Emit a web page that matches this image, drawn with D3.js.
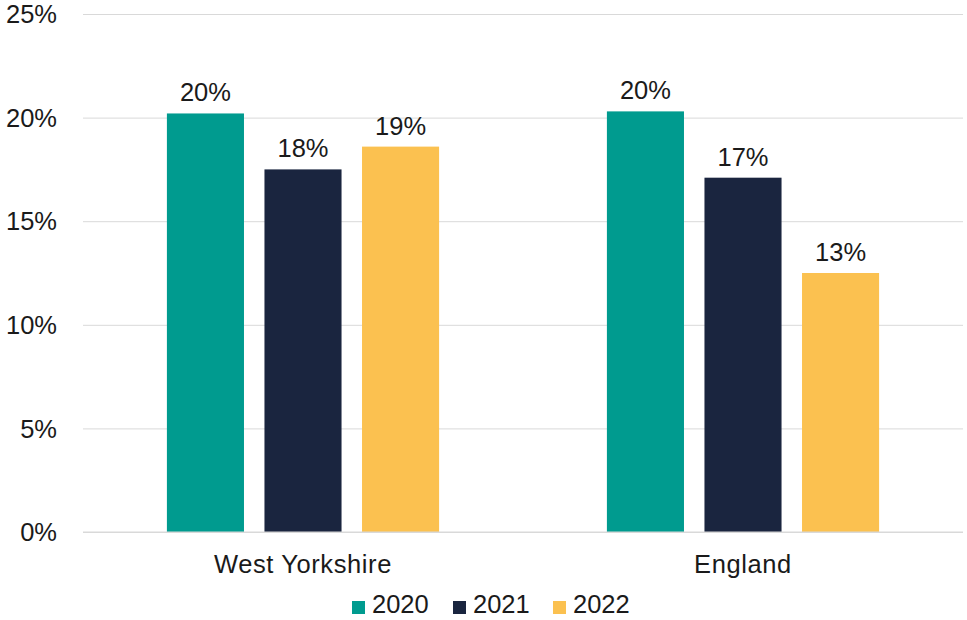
<!DOCTYPE html>
<html>
  <head>
    <meta charset="utf-8">
    <title></title>
  </head>
  <style>
    body{
      margin: 0;
      background-color: #fff;
      font-family: "Liberation Sans", Arial, sans-serif;
    }
    .grid .tick line{
      stroke: #d9d9d9
    }
    .grid .domain{
      display: none
    }
  </style>
  <script src="https://d3js.org/d3.v7.min.js"></script>
  <body>
    <script>
    // data
    const categories = ["West Yorkshire", "England"]
    const years = ["2020", "2021", "2022"]
    const values2020 = [20.2, 20.3]
    const values2021 = [17.5, 17.1]
    const values2022 = [18.6, 12.5]
    const yTicks = [0, 5, 10, 15, 20, 25]
    const colors = ["#009b8f", "#1a253f", "#fbc150"]

    const series = [values2020, values2021, values2022]

    var width = 967, height = 620
    var margin = { left: 83, top: 14, right: 4, bottom: 88 }
    var fontSize = "25.5px"

    var svg = d3.select("body")
                .append("svg")
                .attr("width", width)
                .attr("height", height)

    var x0 = d3.scaleBand()
               .domain(categories)
               .range([margin.left, width - margin.right])
               .padding(0)

    var x1 = d3.scaleBand()
               .domain(years)
               .range([0, x0.bandwidth()])
               .paddingInner(0.21)
               .paddingOuter(0.86)

    var y = d3.scaleLinear()
              .domain([0, 25])
              .range([height - margin.bottom, margin.top])

    // gridlines
    svg.append("g")
       .attr("class", "grid")
       .attr("transform", "translate(" + margin.left + ",0)")
       .call(d3.axisLeft(y)
          .tickValues(yTicks)
          .tickSize(-(width - margin.left - margin.right))
          .tickFormat(""))

    // y labels
    svg.append("g")
       .selectAll("text")
       .data(yTicks)
       .enter()
       .append("text")
       .attr("x", 57)
       .attr("y", d => y(d))
       .attr("dy", "0.36em")
       .attr("text-anchor", "end")
       .attr("font-size", fontSize)
       .attr("fill", "#1a1a1a")
       .text(d => d + "%")

    // bars
    var groups = svg.append("g")
                    .selectAll("g")
                    .data(categories)
                    .enter()
                    .append("g")
                    .attr("transform", d => "translate(" + x0(d) + ",0)")

    groups.selectAll("rect")
          .data((d, i) => years.map((yr, j) => ({ yr: yr, v: series[j][i], c: colors[j] })))
          .enter()
          .append("rect")
          .attr("x", d => x1(d.yr))
          .attr("y", d => y(d.v))
          .attr("width", x1.bandwidth())
          .attr("height", d => y(0) - y(d.v))
          .attr("fill", d => d.c)

    groups.selectAll("text")
          .data((d, i) => years.map((yr, j) => ({ yr: yr, v: series[j][i] })))
          .enter()
          .append("text")
          .attr("x", d => x1(d.yr) + x1.bandwidth() / 2)
          .attr("y", d => y(d.v) - 12)
          .attr("text-anchor", "middle")
          .attr("font-size", fontSize)
          .attr("fill", "#1a1a1a")
          .text(d => Math.round(d.v) + "%")

    // baseline
    svg.append("line")
       .attr("x1", margin.left)
       .attr("x2", width - margin.right)
       .attr("y1", y(0))
       .attr("y2", y(0))
       .attr("stroke", "#d9d9d9")

    // category labels
    svg.append("g")
       .selectAll("text")
       .data(categories)
       .enter()
       .append("text")
       .attr("x", d => x0(d) + x0.bandwidth() / 2)
       .attr("y", 573)
       .attr("text-anchor", "middle")
       .attr("font-size", fontSize)
       .attr("letter-spacing", "0.6px")
       .attr("fill", "#1a1a1a")
       .text(d => d)

    // legend
    var legendX = [352, 453, 553]
    var legend = svg.append("g")
                    .selectAll("g")
                    .data(years)
                    .enter()
                    .append("g")
                    .attr("transform", (d, i) => "translate(" + legendX[i] + ",600)")

    legend.append("rect")
          .attr("y", 1)
          .attr("width", 13)
          .attr("height", 13)
          .attr("fill", (d, i) => colors[i])

    legend.append("text")
          .attr("x", 20)
          .attr("y", 13)
          .attr("font-size", fontSize)
          .attr("fill", "#1a1a1a")
          .text(d => d)
    </script>
  </body>
</html>
